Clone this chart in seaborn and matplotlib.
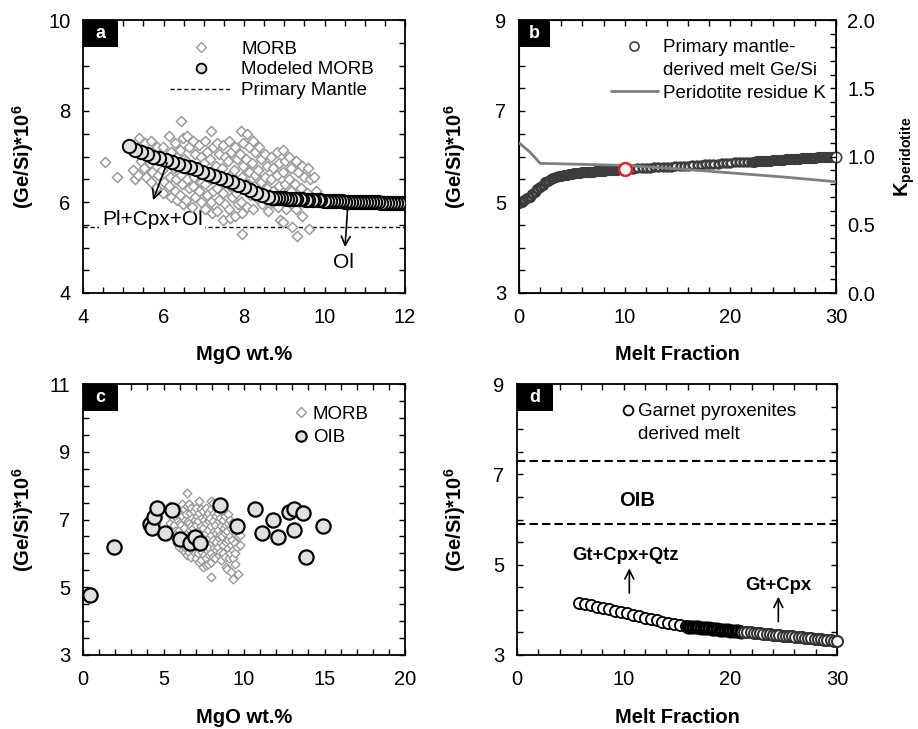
import matplotlib
matplotlib.use("Agg")
import matplotlib.pyplot as plt
import seaborn as sns
from matplotlib.lines import Line2D
from matplotlib.patches import Rectangle
from matplotlib.ticker import MultipleLocator, FormatStrFormatter

# ====================================
# Data
# ====================================

# MORB compilation (panels a and c)
morb_mgo = [
    4.55,
    4.85,
    5.23, 5.28,
    5.38, 5.43, 5.36,
    5.53, 5.58, 5.51, 5.57,
    5.68, 5.73, 5.66, 5.72, 5.69,
    5.83, 5.88, 5.86, 5.81,
    5.98, 6.03, 5.96, 6.02, 5.99,
    6.13, 6.18, 6.11, 6.17, 6.14, 6.19,
    6.28, 6.33, 6.26, 6.32, 6.29, 6.34,
    6.43, 6.48, 6.41, 6.50, 6.44, 6.47, 6.40, 6.49,
    6.58, 6.63, 6.56, 6.62, 6.59, 6.64, 6.57,
    6.73, 6.78, 6.71, 6.77, 6.74, 6.79, 6.72,
    6.88, 6.93, 6.86, 6.92, 6.89, 6.94,
    7.03, 7.08, 7.01, 7.07, 7.04, 7.09, 7.02,
    7.18, 7.23, 7.16, 7.22, 7.19, 7.24, 7.17, 7.21,
    7.33, 7.38, 7.31, 7.37, 7.34, 7.39, 7.32,
    7.48, 7.53, 7.46, 7.52, 7.49, 7.54, 7.47,
    7.63, 7.68, 7.61, 7.67, 7.64, 7.69, 7.62, 7.66,
    7.78, 7.83, 7.76, 7.82, 7.79, 7.84, 7.77,
    7.93, 7.98, 7.91, 7.97, 7.94, 7.99, 7.92, 7.96, 7.95,
    8.08, 8.13, 8.06, 8.12, 8.09, 8.14, 8.07,
    8.23, 8.28, 8.21, 8.27, 8.24, 8.29, 8.22,
    8.38, 8.43, 8.36, 8.42, 8.39, 8.44,
    8.53, 8.58, 8.51, 8.57, 8.54, 8.59,
    8.68, 8.73, 8.66, 8.72, 8.69,
    8.83, 8.88, 8.81, 8.87, 8.84, 8.89,
    8.98, 9.03, 8.96, 9.02, 8.99, 9.04, 8.97,
    9.13, 9.18, 9.11, 9.17, 9.14, 9.19,
    9.28, 9.33, 9.26, 9.32, 9.29, 9.31,
    9.43, 9.48, 9.41, 9.47, 9.44,
    9.58, 9.63, 9.56, 9.62,
    9.73, 9.78,
]
morb_gesi = [
    6.87,
    6.55,
    6.70, 6.50,
    7.40, 6.90, 6.60,
    7.30, 7.05, 6.75, 6.55,
    7.35, 7.10, 6.85, 6.65, 6.45,
    7.20, 6.95, 6.60, 6.30,
    7.20, 6.90, 6.70, 6.45, 6.20,
    7.45, 7.10, 6.85, 6.55, 6.35, 6.10,
    7.30, 7.00, 6.75, 6.50, 6.25, 6.05,
    7.78, 7.40, 7.15, 6.95, 6.60, 6.40, 6.15, 5.95,
    7.45, 7.20, 6.90, 6.70, 6.50, 6.30, 6.05,
    7.35, 7.05, 6.80, 6.55, 6.35, 6.10, 5.90,
    7.25, 7.00, 6.75, 6.45, 6.25, 6.00,
    7.35, 7.10, 6.85, 6.60, 6.40, 6.15, 5.85,
    7.55, 7.20, 6.95, 6.70, 6.50, 6.25, 6.00, 5.75,
    7.30, 7.05, 6.80, 6.55, 6.30, 6.05, 5.80,
    7.25, 7.00, 6.75, 6.45, 6.20, 5.95, 5.60,
    7.35, 7.10, 6.90, 6.60, 6.35, 6.10, 5.85, 5.65,
    7.20, 6.95, 6.70, 6.45, 6.20, 5.95, 5.70,
    7.55, 7.30, 7.05, 6.80, 6.55, 6.30, 6.00, 5.75, 5.30,
    7.50, 7.20, 6.95, 6.65, 6.40, 6.15, 5.90,
    7.35, 7.10, 6.85, 6.60, 6.35, 6.10, 5.85,
    7.20, 6.95, 6.70, 6.45, 6.20, 5.95,
    7.05, 6.80, 6.55, 6.30, 6.05, 5.80,
    7.00, 6.75, 6.50, 6.25, 6.00,
    7.10, 6.85, 6.60, 6.35, 5.90, 5.60,
    7.15, 6.90, 6.65, 6.40, 6.15, 5.85, 5.55,
    7.00, 6.75, 6.50, 6.25, 6.00, 5.45,
    6.90, 6.65, 6.40, 6.10, 5.85, 5.25,
    6.80, 6.55, 6.30, 6.00, 5.70,
    6.75, 6.50, 6.20, 5.40,
    6.55, 6.25,
]

# Modeled MORB (panel a), listed from low to high MgO
model_mgo = [
    5.15, 5.30, 5.45, 5.60, 5.75, 5.90, 6.05, 6.20, 6.35, 6.50, 6.65, 6.80,
    6.95, 7.10, 7.25, 7.40, 7.55, 7.70, 7.85, 8.00, 8.15, 8.30, 8.45, 8.60,
    8.70, 8.78, 8.85, 8.93, 9.00, 9.08, 9.15, 9.23, 9.30, 9.38, 9.45, 9.53,
    9.60, 9.68, 9.75, 9.83, 9.90, 9.98, 10.05, 10.13, 10.20, 10.28, 10.35,
    10.43, 10.50, 10.58, 10.65, 10.73, 10.80, 10.88, 10.95, 11.03, 11.10,
    11.18, 11.25, 11.33, 11.40, 11.48, 11.55, 11.63, 11.70, 11.78, 11.85, 11.93,
]
model_gesi = [
    7.22, 7.15, 7.10, 7.05, 7.00, 6.96, 6.92, 6.88, 6.84, 6.80, 6.76, 6.72,
    6.67, 6.62, 6.58, 6.53, 6.48, 6.43, 6.38, 6.32, 6.26, 6.20, 6.15, 6.11,
    6.09, 6.09, 6.08, 6.08, 6.08, 6.07, 6.07, 6.07, 6.06, 6.06, 6.06, 6.05,
    6.05, 6.05, 6.04, 6.04, 6.04, 6.03, 6.03, 6.03, 6.03, 6.02, 6.02,
    6.02, 6.01, 6.01, 6.01, 6.01, 6.00, 6.00, 6.00, 6.00, 5.99,
    5.99, 5.99, 5.99, 5.98, 5.98, 5.98, 5.98, 5.97, 5.97, 5.97, 5.97,
]
primary_mantle = 5.45

# Primary mantle-derived melt (panel b), three segments of the model curve
melt_b1 = [
    0.0, 0.25, 0.5, 0.75, 1.0, 1.25, 1.5, 1.75, 2.0, 2.25, 2.5, 2.75, 3.0,
    3.25, 3.5, 3.75, 4.0, 4.25, 4.5, 4.75, 5.0, 5.25, 5.5, 5.75, 6.0, 6.25,
    6.5, 6.75, 7.0, 7.25, 7.5, 7.75, 8.0, 8.25, 8.5, 8.75, 9.0, 9.25, 9.5,
    9.75, 10.0,
]
gesi_b1 = [
    4.98, 5.01, 5.05, 5.08, 5.12, 5.17, 5.22, 5.28, 5.33, 5.38, 5.43, 5.47, 5.50,
    5.53, 5.55, 5.57, 5.58, 5.59, 5.60, 5.61, 5.62, 5.63, 5.64, 5.64, 5.65, 5.66,
    5.66, 5.67, 5.67, 5.68, 5.68, 5.69, 5.69, 5.70, 5.70, 5.71, 5.71, 5.71, 5.72,
    5.72, 5.72,
]
melt_b2 = [
    10.4, 10.8, 11.2, 11.6, 12.0, 12.4, 12.8, 13.2, 13.6, 14.0, 14.4, 14.8,
    15.2, 15.6, 16.0, 16.4, 16.8, 17.2, 17.6, 18.0, 18.4, 18.8, 19.2, 19.6,
    20.0, 20.4, 20.8, 21.2, 21.6, 22.0,
]
gesi_b2 = [
    5.73, 5.73, 5.74, 5.74, 5.75, 5.75, 5.76, 5.76, 5.77, 5.78, 5.78, 5.79,
    5.79, 5.80, 5.80, 5.81, 5.82, 5.82, 5.83, 5.83, 5.84, 5.84, 5.85, 5.85,
    5.86, 5.87, 5.87, 5.88, 5.88, 5.89,
]
melt_b3 = [
    22.25, 22.5, 22.75, 23.0, 23.25, 23.5, 23.75, 24.0, 24.25, 24.5, 24.75,
    25.0, 25.25, 25.5, 25.75, 26.0, 26.25, 26.5, 26.75, 27.0, 27.25, 27.5,
    27.75, 28.0, 28.25, 28.5, 28.75, 29.0, 29.25, 29.5, 29.75,
]
gesi_b3 = [
    5.89, 5.90, 5.90, 5.90, 5.91, 5.91, 5.91, 5.92, 5.92, 5.92, 5.93,
    5.93, 5.94, 5.94, 5.94, 5.95, 5.95, 5.95, 5.96, 5.96, 5.96, 5.97,
    5.97, 5.97, 5.98, 5.98, 5.98, 5.99, 5.99, 5.99, 6.00,
]
final_melt_b = [30.0]
final_gesi_b = [6.00]
marked_melt = [10.0]
marked_gesi = [5.73]

# Peridotite residue partition coefficient (panel b, right axis)
k_melt = [0, 1, 2, 10, 15, 20, 25, 30]
k_value = [1.10, 1.035, 0.95, 0.935, 0.91, 0.88, 0.85, 0.815]

# OIB compilation (panel c)
oib_mgo = [0.41, 1.90, 4.18, 4.30, 4.39, 4.60, 5.11, 5.53, 6.00, 6.66, 6.98,
           7.24, 8.53, 9.56, 10.70, 11.10, 11.80, 12.10, 12.77, 13.08, 13.08,
           13.64, 13.87, 14.90]
oib_gesi = [4.77, 6.20, 6.88, 6.75, 7.06, 7.33, 6.59, 7.28, 6.41, 6.30, 6.49,
            6.30, 7.42, 6.80, 7.30, 6.59, 7.00, 6.49, 7.23, 7.30, 6.69,
            7.20, 5.88, 6.80]

# Garnet pyroxenite derived melt (panel d), three segments
melt_d1 = [5.80, 6.36, 6.92, 7.48, 8.04, 8.60, 9.16, 9.72, 10.28, 10.84,
           11.40, 11.96, 12.52, 13.08, 13.64, 14.20, 14.76, 15.32, 15.88]
gesi_d1 = [4.16, 4.13, 4.10, 4.07, 4.04, 4.01, 3.98, 3.95, 3.92, 3.89,
           3.86, 3.83, 3.80, 3.77, 3.74, 3.71, 3.69, 3.66, 3.64]
melt_d2 = [16.0, 16.25, 16.5, 16.75, 17.0, 17.25, 17.5, 17.75, 18.0, 18.25,
           18.5, 18.75, 19.0, 19.25, 19.5, 19.75, 20.0, 20.25, 20.5, 20.75, 21.0]
gesi_d2 = [3.63, 3.63, 3.62, 3.62, 3.61, 3.60, 3.60, 3.59, 3.59, 3.58,
           3.58, 3.57, 3.56, 3.56, 3.55, 3.55, 3.54, 3.54, 3.53, 3.53, 3.52]
melt_d3 = [21.3, 21.6, 21.9, 22.2, 22.5, 22.8, 23.1, 23.4, 23.7, 24.0,
           24.3, 24.6, 24.9, 25.2, 25.5, 25.8, 26.1, 26.4, 26.7, 27.0,
           27.3, 27.6, 27.9, 28.2, 28.5, 28.8, 29.1, 29.4, 29.7, 30.0]
gesi_d3 = [3.51, 3.51, 3.50, 3.49, 3.49, 3.48, 3.47, 3.47, 3.46, 3.45,
           3.45, 3.44, 3.43, 3.43, 3.42, 3.41, 3.40, 3.40, 3.39, 3.38,
           3.38, 3.37, 3.36, 3.36, 3.35, 3.34, 3.34, 3.33, 3.32, 3.32]
oib_range = [7.30, 5.90]

# ====================================
# Style
# ====================================

sns.set_style("ticks")
plt.rcParams["font.family"] = ["Liberation Sans", "DejaVu Sans"]
plt.rcParams["mathtext.fontset"] = "custom"
plt.rcParams["mathtext.rm"] = "Liberation Sans"
plt.rcParams["mathtext.it"] = "Liberation Sans:italic"
plt.rcParams["mathtext.bf"] = "Liberation Sans:bold"
for key in ["text.color", "axes.labelcolor", "xtick.color", "ytick.color",
            "axes.edgecolor"]:
    plt.rcParams[key] = "black"

GREY_FILL = "#e0e0e0"
MORB_EDGE = "#9a9a9a"
TICK_FS = 14.5
LABEL_FS = 14.5
LEG_FS = 13.5
YLABEL = r"(Ge/Si)*10$^\mathbf{6}$"


def frame(ax, xlim, ylim, xmaj, xmin, ymaj, ymin, yoff=0, right=True):
    ax.set_xlim(xlim)
    ax.set_ylim(ylim)
    ax.xaxis.set_major_locator(MultipleLocator(xmaj))
    ax.xaxis.set_minor_locator(MultipleLocator(xmin))
    ax.yaxis.set_major_locator(MultipleLocator(ymaj, offset=yoff))
    ax.yaxis.set_minor_locator(MultipleLocator(ymin))
    ax.tick_params(which="both", direction="in", top=True, right=right,
                   length=4.5, width=1.0, labelsize=TICK_FS)
    ax.tick_params(axis="x", which="both", pad=11)
    ax.tick_params(axis="y", which="both", pad=9)
    for sp in ax.spines.values():
        sp.set_linewidth(1.3)
    ax.grid(False)


def tag(ax, letter, w_px, ax_w, ax_h):
    w = w_px / ax_w
    h = 27 / ax_h
    ax.add_patch(Rectangle((0, 1 - h), w, h, transform=ax.transAxes,
                           facecolor="black", edgecolor="none", zorder=8,
                           clip_on=False))
    ax.text(w / 2, 1 - h / 2, letter, transform=ax.transAxes, color="white",
            fontsize=13, fontweight="bold", ha="center", va="center", zorder=9)


def arrow(ax, start, end):
    ax.annotate("", xy=end, xytext=start, zorder=7,
                arrowprops=dict(arrowstyle="->", color="black", lw=1.2,
                                shrinkA=0, shrinkB=0, mutation_scale=16))


fig = plt.figure(figsize=(9.18, 7.29), dpi=100)
ax_a = fig.add_axes([83 / 918, 1 - 293 / 729, 322 / 918, 273 / 729])
ax_b = fig.add_axes([519 / 918, 1 - 293 / 729, 317 / 918, 273 / 729])
ax_c = fig.add_axes([83 / 918, 1 - 655 / 729, 322 / 918, 271 / 729])
ax_d = fig.add_axes([517 / 918, 1 - 655 / 729, 320 / 918, 271 / 729])

# ====================================
# a. MORB vs modeled MORB
# ====================================

ax = ax_a
ax.axhline(primary_mantle, color="black", lw=1.0, ls=(0, (3, 2)), zorder=2)
sns.scatterplot(x=morb_mgo, y=morb_gesi, ax=ax, marker="D", s=27,
                color="white", edgecolor=MORB_EDGE, linewidth=1.1, zorder=3)
sns.scatterplot(x=model_mgo[::-1], y=model_gesi[::-1], ax=ax, marker="o",
                s=92, color=GREY_FILL, edgecolor="black", linewidth=1.4,
                zorder=5)
ax.text(5.72, 5.61, "Pl+Cpx+Ol", fontsize=15, ha="center", va="center",
        zorder=2.5, bbox=dict(facecolor="white", edgecolor="none", pad=2))
arrow(ax, (6.09, 6.86), (5.74, 6.04))
arrow(ax, (10.58, 5.93), (10.51, 5.01))
ax.text(10.46, 4.68, "Ol", fontsize=15, ha="center", va="center")
frame(ax, (4, 12), (4, 10), 2, 0.5, 2, 0.5)
ax.set_xlabel("MgO wt.%", fontsize=LABEL_FS, fontweight="bold")
ax.set_ylabel(YLABEL, fontsize=LABEL_FS, fontweight="bold")
ax.xaxis.set_label_coords(0.5, -0.19)
ax.yaxis.set_label_coords(-0.147, 0.5)
h1 = Line2D([], [], ls="none", marker="D", ms=5, mfc="white", mec=MORB_EDGE,
            mew=1.0)
h2 = Line2D([], [], ls="none", marker="o", ms=7, mfc=GREY_FILL, mec="black",
            mew=1.3)
h3 = Line2D([], [], color="black", lw=1.0, ls=(0, (3, 2)))
ax.legend([h1, h2, h3], ["MORB", "Modeled MORB", "Primary Mantle"],
          loc="upper left", bbox_to_anchor=(0.27, 0.925), frameon=False,
          fontsize=LEG_FS, handlelength=3.3, handletextpad=0.5,
          labelspacing=0.2, borderpad=0, borderaxespad=0)
tag(ax, "a", 35, 322, 273)

# ====================================
# b. Primary mantle-derived melt
# ====================================

ax = ax_b
DARK = "#3c3c3c"
sns.scatterplot(x=melt_b1, y=gesi_b1, ax=ax, marker="o", s=32, color="white",
                edgecolor=DARK, linewidth=2.4, zorder=4)
sns.scatterplot(x=melt_b2, y=gesi_b2, ax=ax, marker="o", s=30, color="white",
                edgecolor=DARK, linewidth=2.0, zorder=4)
sns.scatterplot(x=melt_b3, y=gesi_b3, ax=ax, marker="o", s=32, color="white",
                edgecolor=DARK, linewidth=2.4, zorder=4)
sns.scatterplot(x=final_melt_b, y=final_gesi_b, ax=ax, marker="o", s=55,
                color="white", edgecolor=DARK, linewidth=1.2, zorder=4,
                clip_on=False)
frame(ax, (0, 30), (3, 9), 10, 2, 2, 0.5, yoff=1, right=False)
ax.set_xlabel("Melt Fraction", fontsize=LABEL_FS, fontweight="bold")
ax.set_ylabel(YLABEL, fontsize=LABEL_FS, fontweight="bold")
ax.xaxis.set_label_coords(0.5, -0.19)
ax.yaxis.set_label_coords(-0.16, 0.5)

ax2 = ax_b.twinx()
sns.lineplot(x=k_melt, y=k_value, ax=ax2, color="#7f7f7f", linewidth=2.0,
             zorder=3)
sns.scatterplot(x=marked_melt, y=marked_gesi, ax=ax2, marker="o", s=85,
                color="white", edgecolor="#e8202a", linewidth=1.8, zorder=6,
                transform=ax_b.transData)
ax2.set_ylim(0, 2)
ax2.yaxis.set_major_locator(MultipleLocator(0.5))
ax2.yaxis.set_minor_locator(MultipleLocator(0.1))
ax2.yaxis.set_major_formatter(FormatStrFormatter("%.1f"))
ax2.tick_params(which="both", direction="in", length=4.5, width=1.0,
                labelsize=TICK_FS, pad=8)
ax2.grid(False)
ax2.set_ylabel(r"K$_\mathbf{peridotite}$", fontsize=LABEL_FS,
               fontweight="bold")
ax2.yaxis.set_label_coords(1.177, 0.5)
hb1 = Line2D([], [], ls="none", marker="o", ms=6.5, mfc="white", mec=DARK,
             mew=1.2)
hb2 = Line2D([], [], ls="none")
hb3 = Line2D([], [], color="#7f7f7f", lw=2.0)
ax2.legend([hb1, hb2, hb3],
           ["Primary mantle-", "derived melt Ge/Si", "Peridotite residue K"],
           loc="upper left", bbox_to_anchor=(0.29, 0.93), frameon=False,
           fontsize=LEG_FS, handlelength=2.5, handletextpad=0.3,
           labelspacing=0.3, borderpad=0, borderaxespad=0)
tag(ax_b, "b", 31, 317, 273)

# ====================================
# c. MORB and OIB
# ====================================

ax = ax_c
sns.scatterplot(x=morb_mgo, y=morb_gesi, ax=ax, marker="D", s=20,
                color="white", edgecolor=MORB_EDGE, linewidth=1.0, zorder=3)
sns.scatterplot(x=oib_mgo, y=oib_gesi, ax=ax, marker="o", s=105,
                color=GREY_FILL, edgecolor="black", linewidth=1.6, zorder=4)
frame(ax, (0, 20), (3, 11), 5, 1, 2, 0.5, yoff=1)
ax.set_xlabel("MgO wt.%", fontsize=LABEL_FS, fontweight="bold")
ax.set_ylabel(YLABEL, fontsize=LABEL_FS, fontweight="bold")
ax.xaxis.set_label_coords(0.5, -0.196)
ax.yaxis.set_label_coords(-0.147, 0.5)
hc1 = Line2D([], [], ls="none", marker="D", ms=5, mfc="white", mec=MORB_EDGE,
             mew=1.0)
hc2 = Line2D([], [], ls="none", marker="o", ms=7.5, mfc=GREY_FILL, mec="black",
             mew=1.5)
ax.legend([hc1, hc2], ["MORB", "OIB"], loc="upper left",
          bbox_to_anchor=(0.655, 0.92), frameon=False, fontsize=LEG_FS,
          handlelength=0.8, handletextpad=0.2, labelspacing=0.35,
          borderpad=0, borderaxespad=0)
tag(ax, "c", 35, 322, 271)

# ====================================
# d. Garnet pyroxenite derived melt
# ====================================

ax = ax_d
for level in oib_range:
    ax.axhline(level, color="black", lw=1.5, ls=(0, (4, 2)), zorder=2)
sns.scatterplot(x=melt_d1, y=gesi_d1, ax=ax, marker="o", s=64, color="white",
                edgecolor="black", linewidth=1.3, zorder=4)
sns.scatterplot(x=melt_d2, y=gesi_d2, ax=ax, marker="o", s=62, color="white",
                edgecolor="black", linewidth=2.2, zorder=4)
sns.scatterplot(x=melt_d3, y=gesi_d3, ax=ax, marker="o", s=62, color="white",
                edgecolor="#333333", linewidth=1.5, zorder=4, clip_on=False)
ax.text(11.25, 6.41, "OIB", fontsize=14.5, fontweight="bold", ha="center",
        va="center")
ax.text(10.16, 5.2, "Gt+Cpx+Qtz", fontsize=13.3, fontweight="bold",
        ha="center", va="center")
arrow(ax, (10.53, 4.37), (10.53, 4.92))
ax.text(24.5, 4.54, "Gt+Cpx", fontsize=13.3, fontweight="bold", ha="center",
        va="center")
arrow(ax, (24.5, 3.74), (24.5, 4.29))
frame(ax, (0, 30), (3, 9), 10, 2, 2, 0.5, yoff=1)
ax.set_xlabel("Melt Fraction", fontsize=LABEL_FS, fontweight="bold")
ax.set_ylabel(YLABEL, fontsize=LABEL_FS, fontweight="bold")
ax.xaxis.set_label_coords(0.5, -0.196)
ax.yaxis.set_label_coords(-0.153, 0.5)
hd1 = Line2D([], [], ls="none", marker="o", ms=7, mfc="white", mec="black",
             mew=1.3)
hd2 = Line2D([], [], ls="none")
ax.legend([hd1, hd2], ["Garnet pyroxenites", "derived melt"],
          loc="upper left", bbox_to_anchor=(0.322, 0.93), frameon=False,
          fontsize=LEG_FS, handlelength=0.8, handletextpad=0.16,
          labelspacing=0.3, borderpad=0, borderaxespad=0)
tag(ax, "d", 36, 320, 271)

fig.savefig("out.png", dpi=100)
